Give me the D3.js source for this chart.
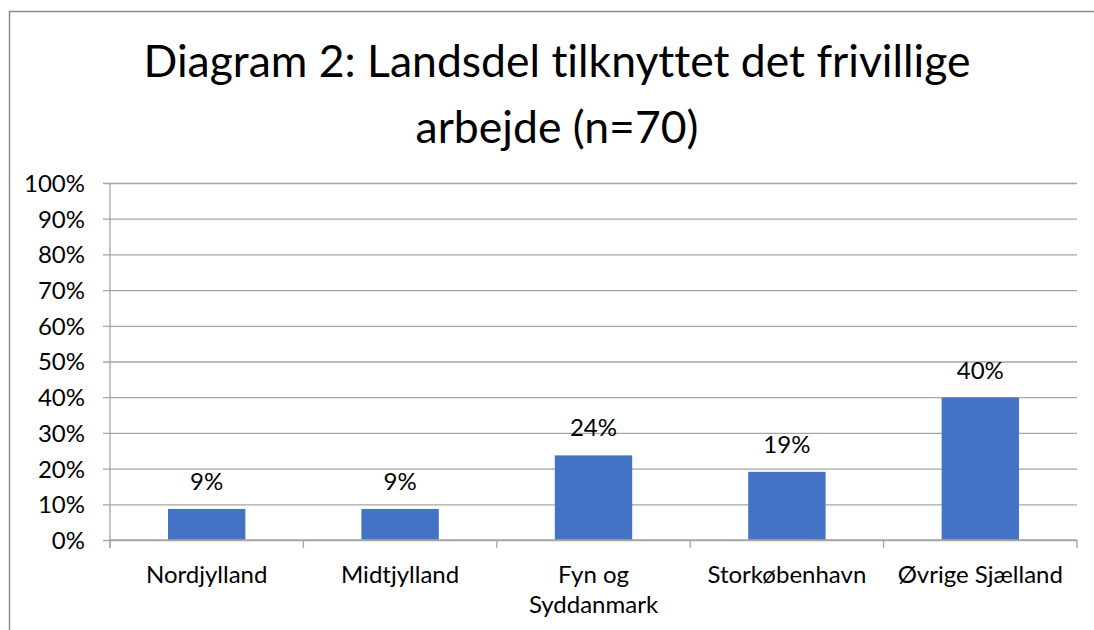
<!DOCTYPE html>
<html>
<head>
<meta charset="utf-8">
<script src="https://cdn.jsdelivr.net/npm/d3@7"></script>
<style>
  body { margin: 0; background: #fff; }
  text { font-family: Lato, "Noto Sans", sans-serif; fill: #000; font-variant-ligatures: none; }
</style>
</head>
<body>
<div id="chart"></div>
<script>
//chart data
var regions = ['Nordjylland', 'Midtjylland', 'Fyn og Syddanmark', 'Storkøbenhavn', 'Øvrige Sjælland'];
var shares = [0.087, 0.087, 0.237, 0.191, 0.399];
var shareLabels = ['9%', '9%', '24%', '19%', '40%'];
var tickValues = [0, 0.1, 0.2, 0.3, 0.4, 0.5, 0.6, 0.7, 0.8, 0.9, 1.0];
var titleLines = ['Diagram 2: Landsdel tilknyttet det frivillige', 'arbejde (n=70)'];

//canvas size
var width = 1094;
var height = 630;

//plot area
var plotLeft = 110;
var plotRight = 1077;
var plotTop = 183;
var plotBottom = 540;

var labelSize = 24;

var svg = d3.select('#chart')
    .append('svg')
    .attr('width', width)
    .attr('height', height);

//outer frame
svg.append('rect')
    .attr('x', 9.5)
    .attr('y', 11.5)
    .attr('width', 1090)
    .attr('height', 640)
    .attr('fill', '#fff')
    .attr('stroke', '#8c8c8c')
    .attr('stroke-width', 1.5);

//title
svg.append('g')
    .selectAll('text')
    .data(titleLines)
    .enter()
    .append('text')
    .attr('x', 557)
    .attr('y', function(d, i) { return 77 + i * 66; })
    .attr('text-anchor', 'middle')
    .attr('font-size', 44.5)
    .text(function(d) { return d; });

//scales
var xScale = d3.scaleBand()
    .domain(regions)
    .range([plotLeft, plotRight])
    .paddingInner(0.6)
    .paddingOuter(0.3);

var yScale = d3.scaleLinear()
    .domain([0, 1])
    .range([plotBottom, plotTop]);

//gridlines + y axis
var yAxis = d3.axisLeft(yScale)
    .tickValues(tickValues)
    .tickFormat(d3.format('.0%'))
    .tickSize(-(plotRight - plotLeft));

var yG = svg.append('g')
    .attr('transform', 'translate(' + plotLeft + ',0)')
    .call(yAxis);

yG.select('.domain').remove();
yG.selectAll('.tick line')
    .attr('x1', -7)
    .attr('stroke', '#a6a6a6')
    .attr('stroke-width', 1.3);
yG.selectAll('.tick text')
    .attr('font-size', labelSize)
    .attr('font-family', 'Lato, sans-serif')
    .attr('fill', '#000')
    .attr('x', -25)
    .attr('dy', '0.35em');

//vertical axis line
svg.append('line')
    .attr('x1', plotLeft).attr('x2', plotLeft)
    .attr('y1', plotTop).attr('y2', plotBottom + 8)
    .attr('stroke', '#a6a6a6')
    .attr('stroke-width', 1.3);

//bars
svg.append('g')
    .selectAll('rect')
    .data(shares)
    .enter()
    .append('rect')
    .attr('x', function(d, i) { return xScale(regions[i]); })
    .attr('y', function(d) { return yScale(d); })
    .attr('width', xScale.bandwidth())
    .attr('height', function(d) { return plotBottom - yScale(d); })
    .attr('fill', '#4472c4');

//bar labels
svg.append('g')
    .selectAll('text')
    .data(shares)
    .enter()
    .append('text')
    .attr('x', function(d, i) { return xScale(regions[i]) + xScale.bandwidth() / 2; })
    .attr('y', function(d) { return yScale(d) - 19; })
    .attr('text-anchor', 'middle')
    .attr('font-size', labelSize)
    .text(function(d, i) { return shareLabels[i]; });

//x axis line and category separators
var step = xScale.step();
svg.append('line')
    .attr('x1', plotLeft).attr('x2', plotRight)
    .attr('y1', plotBottom).attr('y2', plotBottom)
    .attr('stroke', '#a6a6a6')
    .attr('stroke-width', 1.3);

svg.append('g')
    .selectAll('line')
    .data(d3.range(regions.length + 1))
    .enter()
    .append('line')
    .attr('x1', function(i) { return plotLeft + i * step; })
    .attr('x2', function(i) { return plotLeft + i * step; })
    .attr('y1', plotBottom)
    .attr('y2', plotBottom + 8)
    .attr('stroke', '#a6a6a6')
    .attr('stroke-width', 1.3);

//category labels (Fyn og Syddanmark wraps)
var catLines = {
    'Fyn og Syddanmark': ['Fyn og', 'Syddanmark']
};
var catG = svg.append('g');
regions.forEach(function(r) {
    var lines = catLines[r] || [r];
    var t = catG.append('text')
        .attr('text-anchor', 'middle')
        .attr('font-size', labelSize);
    lines.forEach(function(l, i) {
        t.append('tspan')
            .attr('x', xScale(r) + xScale.bandwidth() / 2)
            .attr('y', 583 + i * 30)
            .text(l);
    });
});
</script>
</body>
</html>
